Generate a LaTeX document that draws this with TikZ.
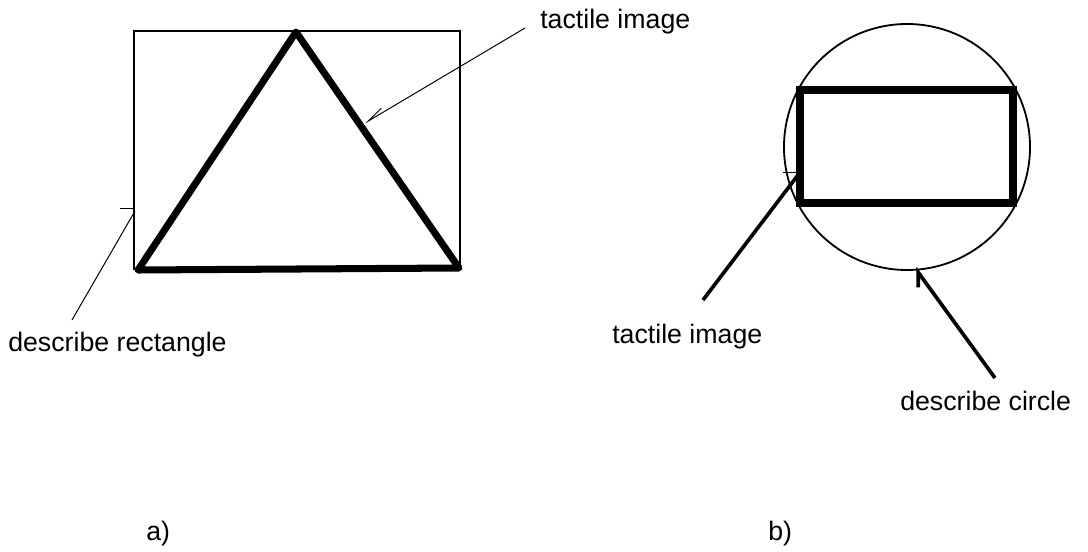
\documentclass[tikz,border=0pt]{standalone}
\usepackage{fontspec}
\setmainfont{Liberation Sans}
\usetikzlibrary{arrows.meta,positioning}

\begin{document}
\begin{tikzpicture}[
    x=0.025cm, y=-0.025cm,
    txt/.style={inner sep=0pt, anchor=base west, font=\fontsize{19}{22}\selectfont},
    outline/.style={line width=1.3pt},
    contour/.style={line width=5pt, line join=round},
    leader/.style={line width=0.7pt},
    bold leader/.style={line width=2.6pt}
  ]
    \useasboundingbox (0,0) rectangle (1088,552);

    % a) triangle and its describe rectangle
    \coordinate (apex) at (296,32);
    \coordinate (baseL) at (138,270);
    \coordinate (baseR) at (459,268);
    \draw[outline] (134,31) rectangle (460,269);
    \draw[contour] (apex) -- (baseL) -- (baseR) -- cycle;

    \node[txt] (tactA) at (540,28) {tactile image};
    \node[txt] (descA) at (8,351) {describe rectangle};
    \node[txt] (capA) at (146,540) {a)};

    \coordinate (tactA-end) at (525,28);
    \coordinate (tactA-tip) at (365,123);
    \coordinate (descA-end) at (72,320);
    \coordinate (descA-tip) at (135,211);
    \coordinate (tickA) at (120,208);
    \draw[leader, -{Straight Barb[harpoon, swap, length=4.4mm, width=2.2mm]}] (tactA-end) -- (tactA-tip);
    \draw[leader] (descA-end) -- (descA-tip);
    \draw[leader] (tickA) -- ++(15,0);

    % b) rectangle and its describe circle
    \coordinate (ctr) at (907,147);
    \draw[outline] (ctr) circle (123);
    \draw[contour, line join=miter] (800,90) rectangle (1013,203);

    \node[txt] (tactB) at (612,343) {tactile image};
    \node[txt] (descB) at (900,410) {describe circle};
    \node[txt] (capB) at (768,540) {b)};

    \coordinate (tactB-end) at (703,300);
    \coordinate (tactB-tip) at (798,175);
    \coordinate (descB-end) at (995,378);
    \coordinate (descB-tip) at (915,268);
    \coordinate (tickB) at (783,172);
    \draw[bold leader] (tactB-end) -- (tactB-tip);
    \draw[leader] (tickB) -- ++(15,0);
    \draw[bold leader, -{Straight Barb[harpoon, length=3mm, width=4.4mm]}] (descB-end) -- (descB-tip);
\end{tikzpicture}
\end{document}
